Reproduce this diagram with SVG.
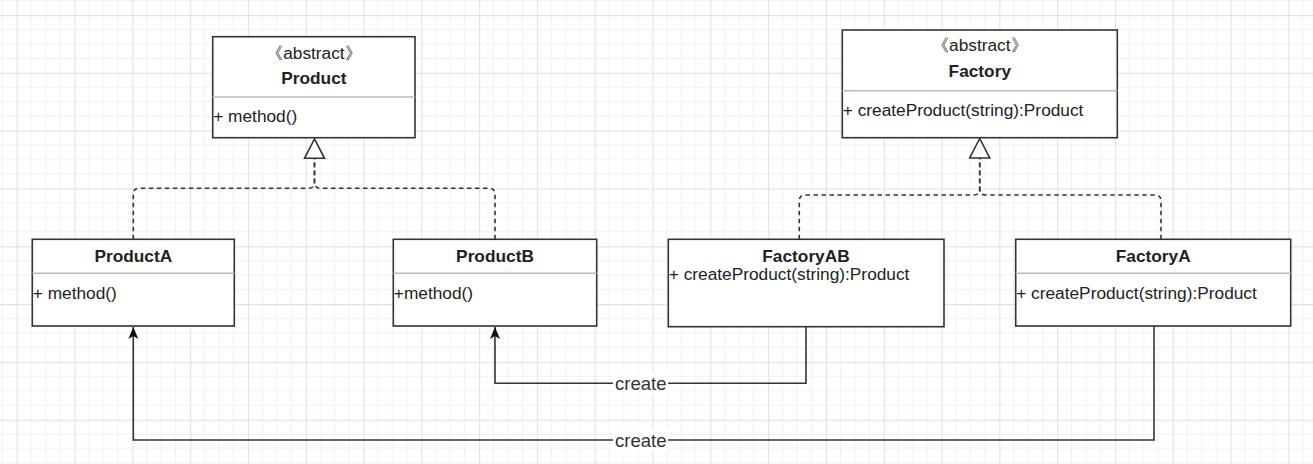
<svg xmlns="http://www.w3.org/2000/svg" width="1313" height="464" viewBox="0 0 1313 464">
<style>
.box{fill:#fff;stroke:#333;stroke-width:1.6}
.div{stroke:#bbb;stroke-width:1.5}
.t{font-family:"Liberation Sans",Arial,sans-serif;font-size:17.3px;fill:#222}
.b{font-weight:bold}
.c{text-anchor:middle}
.dash{fill:none;stroke:#333;stroke-width:1.6;stroke-dasharray:4.5 3.5}
.solid{fill:none;stroke:#333;stroke-width:1.6}
.lbl{font-family:"Liberation Sans",Arial,sans-serif;font-size:18.5px;fill:#333;text-anchor:middle}
</style>
<defs>
<pattern id="grid" x="16.7" y="15" width="57.8" height="57.8" patternUnits="userSpaceOnUse">
<path d="M14.45,0V57.8M28.9,0V57.8M43.35,0V57.8M0,14.45H57.8M0,28.9H57.8M0,43.35H57.8" stroke="#f1f1f1" stroke-width="1"/>
<path d="M0.5,0V57.8M0,0.5H57.8" stroke="#e2e2e2" stroke-width="1.3"/>
</pattern>
<marker id="arr" viewBox="0 0 12 10" refX="12" refY="5" markerWidth="12" markerHeight="10" markerUnits="userSpaceOnUse" orient="auto">
<path d="M0,0 L12,5 L0,10 L3,5 Z" fill="#111"/>
</marker>
</defs>
<rect width="1313" height="464" fill="#fff"/>
<rect width="1313" height="464" fill="url(#grid)"/>

<g id="connectors">
<path class="dash" d="M133.3,239.3 V194.3 Q133.3,188.3 139.3,188.3 H308.5 Q314.5,188.3 314.5,182.3 V158.3"/>
<path class="dash" d="M495,239.3 V194.3 Q495,188.3 489,188.3 H320.5 Q314.5,188.3 314.5,182.3 V158.3"/>
<polygon points="314.5,139 304.5,158.3 324.5,158.3" fill="#fff" stroke="#333" stroke-width="1.6"/>
<path class="dash" d="M799.3,239.3 V201 Q799.3,195 805.3,195 H973.7 Q979.7,195 979.7,189 V158"/>
<path class="dash" d="M1161,239.3 V201 Q1161,195 1155,195 H985.7 Q979.7,195 979.7,189 V158"/>
<polygon points="979.7,138.5 969.7,158 989.7,158" fill="#fff" stroke="#333" stroke-width="1.6"/>
<path class="solid" d="M806,326.7 V383.3 H495 V327" marker-end="url(#arr)"/>
<path class="solid" d="M1154,326 V440 H133.3 V327" marker-end="url(#arr)"/>
<rect x="613" y="372" width="55" height="22" fill="#fff"/>
<text class="lbl" x="640.8" y="390">create</text>
<rect x="613" y="429" width="55" height="22" fill="#fff"/>
<text class="lbl" x="640.8" y="447">create</text>
</g>

<g id="Product">
<rect class="box" x="212.7" y="36.7" width="202.3" height="101"/>
<line class="div" x1="212.7" y1="97" x2="415" y2="97"/>
<text class="t c" x="313.9" y="58.5">《abstract》</text>
<text class="t b c" x="313.9" y="84">Product</text>
<text class="t" x="213.2" y="122">+ method()</text>
</g>

<g id="Factory">
<rect class="box" x="842.3" y="30" width="275" height="107.7"/>
<line class="div" x1="842.3" y1="90.7" x2="1117.3" y2="90.7"/>
<text class="t c" x="979.8" y="50.7">《abstract》</text>
<text class="t b c" x="979.8" y="77">Factory</text>
<text class="t" x="842.8" y="116">+ createProduct(string):Product</text>
</g>

<g id="ProductA">
<rect class="box" x="32.3" y="239.3" width="202" height="86.7"/>
<line class="div" x1="32.3" y1="273.3" x2="234.3" y2="273.3"/>
<text class="t b c" x="133.3" y="261.7">ProductA</text>
<text class="t" x="32.8" y="299">+ method()</text>
</g>

<g id="ProductB">
<rect class="box" x="393.3" y="239.3" width="203.4" height="86.7"/>
<line class="div" x1="393.3" y1="273.3" x2="596.7" y2="273.3"/>
<text class="t b c" x="495" y="261.7">ProductB</text>
<text class="t" x="393.8" y="299">+method()</text>
</g>

<g id="FactoryAB">
<rect class="box" x="668.3" y="239.3" width="275.7" height="87.4"/>
<text class="t b c" x="806" y="261.7">FactoryAB</text>
<text class="t" x="668.8" y="280">+ createProduct(string):Product</text>
</g>

<g id="FactoryA">
<rect class="box" x="1015.7" y="239.3" width="275" height="86.7"/>
<line class="div" x1="1015.7" y1="273.3" x2="1290.7" y2="273.3"/>
<text class="t b c" x="1153.2" y="261.7">FactoryA</text>
<text class="t" x="1016.2" y="299">+ createProduct(string):Product</text>
</g>
</svg>
